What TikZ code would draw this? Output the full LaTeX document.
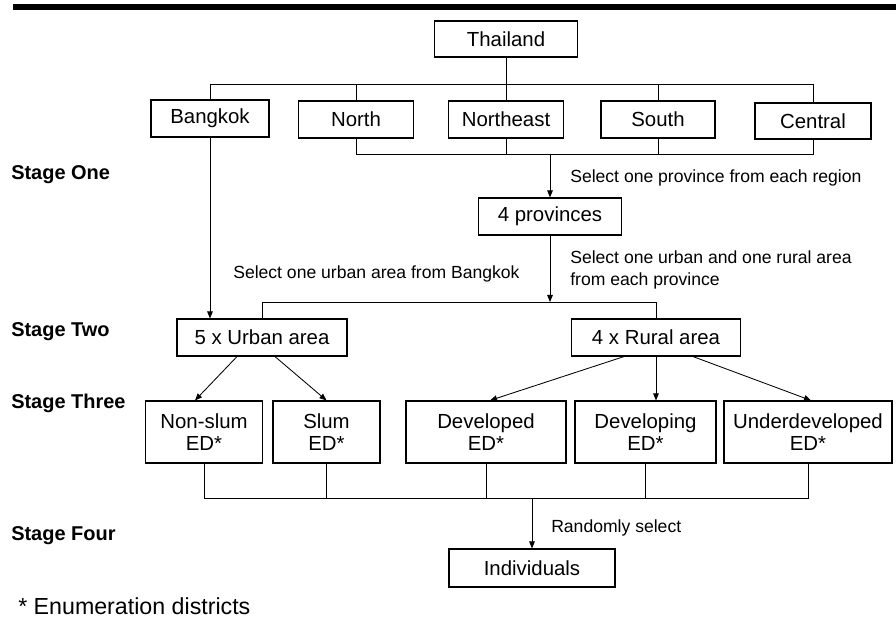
\documentclass[tikz,border=0pt]{standalone}
\usepackage{fontspec}
\setmainfont{Liberation Sans}
\usetikzlibrary{arrows.meta,calc}

\begin{document}
\begin{tikzpicture}[x=0.025cm, y=-0.025cm,
  every node/.style={font=\fontsize{14.5}{15.8}\selectfont, align=center, inner sep=0pt},
  box/.style={draw, line width=0.8pt, minimum width=#1*0.025cm, minimum height=0.925cm},
  edbox/.style={box=#1, minimum height=1.55cm},
  link/.style={line width=0.6pt},
  arr/.style={link, -{Triangle[length=5pt,width=4pt]}},
  note/.style={font=\fontsize{12.5}{16}\selectfont, align=left, anchor=west},
  stage/.style={font=\fontsize{14.2}{16}\selectfont\bfseries, anchor=west}]
  \useasboundingbox (0,0) rectangle (896,623);
  \fill (13,4) rectangle (896,10);

  % regions
  \node[box=143, minimum height=0.9cm] (thai) at (506,39) {Thailand};
  \node[box=118] (bkk) at (210,118.5) {Bangkok};
  \node[box=115] (north) at (356,119.5) {North};
  \node[box=115] (neast) at (506,119.5) {Northeast};
  \node[box=114] (south) at (658,119.5) {South};
  \node[box=116, minimum height=0.9cm] (central) at (813,121) {Central};
  \node[box=143] (prov) at (550,216.5) {4 provinces};

  % areas
  \node[box=170] (urban) at (262,337.5) {5 x Urban area};
  \node[box=169] (rural) at (656,337.5) {4 x Rural area};

  % enumeration districts
  \node[edbox=117] (nonslum) at (204,432) {Non-slum\\ED*};
  \node[edbox=107] (slum) at (326.5,432) {Slum\\ED*};
  \node[edbox=160] (devd) at (486,432) {Developed\\ED*};
  \node[edbox=141] (devg) at (645.5,432) {Developing\\ED*};
  \node[edbox=168] (under) at (808,432) {Underdeveloped\\ED*};
  \node[box=166, minimum height=0.95cm] (indiv) at (532,568) {Individuals};

  % stages and notes
  \node[stage] (s1) at (11,175) {Stage One};
  \node[stage] (s2) at (11,332) {Stage Two};
  \node[stage] (s3) at (11,403) {Stage Three};
  \node[stage] (s4) at (11,536) {Stage Four};
  \node[note] (n1) at (570,178) {Select one province from each region};
  \node[note] (n2) at (233,274) {Select one urban area from Bangkok};
  \node[note] (n3) at (570,270) {Select one urban and one rural area\\from each province};
  \node[note] (n4) at (551,528) {Randomly select};
  \node[note, font=\fontsize{16.5}{18}\selectfont] (fn) at (18,606) {* Enumeration districts};

  \coordinate (t1) at (0,84);
  \coordinate (t2) at (0,154);
  \coordinate (t3) at (0,302);
  \coordinate (t4) at (0,498);

  \draw[link] (thai.south) -- (thai.south |- t1);
  \draw[link] (bkk.north) -- (bkk.north |- t1) -| (central.north);
  \draw[link] (north.north) -- (north.north |- t1);
  \draw[link] (neast.north) -- (neast.north |- t1);
  \draw[link] (south.north) -- (south.north |- t1);

  \draw[link] (north.south) -- (north.south |- t2) -| (central.south);
  \draw[link] (neast.south) -- (neast.south |- t2);
  \draw[link] (south.south) -- (south.south |- t2);
  \draw[arr] (prov.north |- t2) -- (prov.north);

  \draw[arr] (prov.south) -- (prov.south |- t3);
  \draw[link] (urban.north) -- (urban.north |- t3) -| (rural.north);
  \draw[arr] (bkk.south) -- (bkk.south |- urban.north);

  \draw[arr] ($(urban.south)+(-25,0)$) -- ($(nonslum.north)+(-9,0)$);
  \draw[arr] ($(urban.south)+(13,0)$) -- (slum.north);
  \draw[arr] ($(rural.south)+(-32,0)$) -- ($(devd.north)+(4,0)$);
  \draw[arr] (rural.south) -- (rural.south |- devg.north);
  \draw[arr] ($(rural.south)+(37,0)$) -- ($(under.north)+(3,0)$);

  \draw[link] (nonslum.south) -- (nonslum.south |- t4) -| (under.south);
  \draw[link] (slum.south) -- (slum.south |- t4);
  \draw[link] (devd.south) -- (devd.south |- t4);
  \draw[link] (devg.south) -- (devg.south |- t4);
  \draw[arr] (indiv.north |- t4) -- (indiv.north);
\end{tikzpicture}
\end{document}
